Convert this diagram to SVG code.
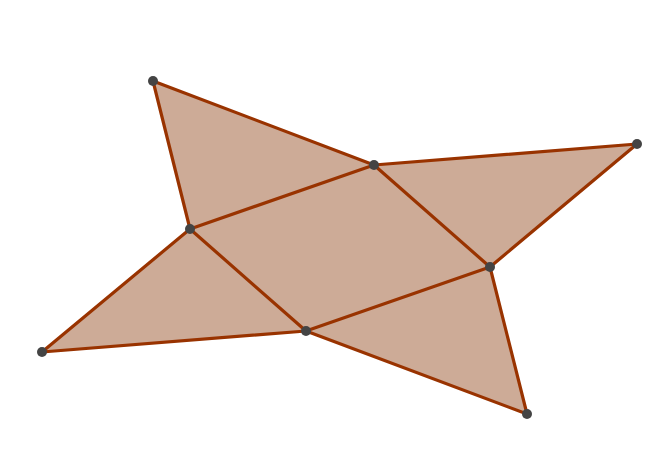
<svg xmlns="http://www.w3.org/2000/svg" width="659" height="468" viewBox="0 0 659 468">
<style>
.f{fill:#cdab97;stroke:none}
.e{stroke:#993300;stroke-width:3.2;fill:none;stroke-linecap:round;stroke-linejoin:round}
.p{fill:#444444}
</style>
<rect width="659" height="468" fill="#ffffff"/>
<polygon class="f" points="153,81 374,165 637,144 490,267 527,414 306,331 42,352 190,229"/>
<g id="edges">
<polygon class="e" points="153,81 374,165 637,144 490,267 527,414 306,331 42,352 190,229"/>
<polygon class="e" points="190,229 374,165 490,267 306,331"/>
</g>
<g id="points">
<circle class="p" cx="153" cy="81" r="5"/>
<circle class="p" cx="374" cy="165" r="5"/>
<circle class="p" cx="637" cy="144" r="5"/>
<circle class="p" cx="490" cy="267" r="5"/>
<circle class="p" cx="527" cy="414" r="5"/>
<circle class="p" cx="306" cy="331" r="5"/>
<circle class="p" cx="42" cy="352" r="5"/>
<circle class="p" cx="190" cy="229" r="5"/>
</g>
</svg>
